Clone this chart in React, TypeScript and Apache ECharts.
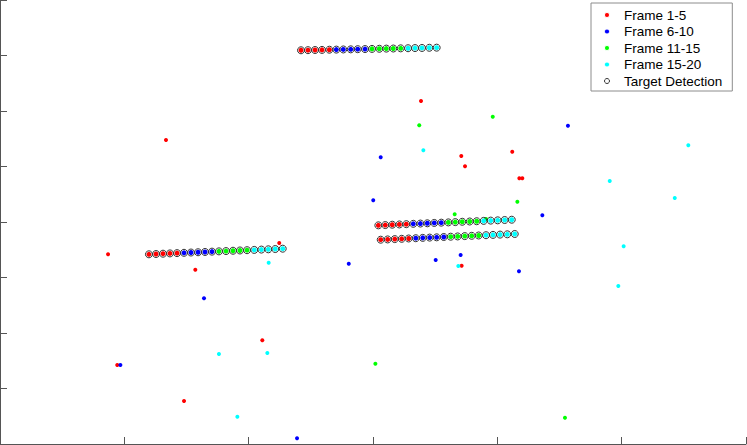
import React, { useEffect, useRef } from "react";
import * as echarts from "echarts";

// Axis setup (tick labels are cropped out in the reference)
const xTicks = [0, 100, 200, 300, 400, 500, 600];
const yTicks = [0, 100, 200, 300, 400, 500, 600, 700, 800];

const legendNames = ["Frame 1-5", "Frame 6-10", "Frame 11-15", "Frame 15-20", "Target Detection"];
const frameColors = ["#ff0000", "#0000ff", "#00ff00", "#00ffff"];

// Stand-alone detections (clutter) per frame group
const frame1_5: [number, number][] = [
  [133.5, 547.7], [86.9, 341.8], [157.1, 314.1], [224.6, 362.2], [94.3, 142.3],
  [148.0, 77.5], [211.0, 186.8], [338.6, 618.0], [371.0, 518.9], [374.0, 500.4],
  [412.0, 526.7], [417.7, 478.7], [420.1, 478.7], [371.3, 321.3],
];
const frame6_10: [number, number][] = [
  [96.8, 142.3], [164.1, 262.5], [238.9, 10.3], [280.5, 324.9], [300.2, 439.1],
  [306.2, 516.6], [350.4, 331.5], [370.5, 340.5], [417.4, 311.2], [436.2, 412.1],
  [456.8, 573.5],
];
const frame11_15: [number, number][] = [
  [337.2, 574.2], [396.3, 589.7], [416.1, 436.6], [365.7, 413.9], [390.9, 405.4],
  [301.9, 144.7], [454.4, 47.4],
];
const frame16_20: [number, number][] = [
  [340.5, 529.2], [553.6, 538.2], [490.4, 473.9], [542.7, 443.2], [501.6, 356.2],
  [497.3, 284.7], [368.6, 320.7], [216.1, 326.7], [176.1, 162.2], [215.0, 164.0],
  [190.9, 49.2],
];

// Target tracks: 20 frames each (x and y per frame)
const trackA_x = [242.1, 247.7, 253.4, 259.0, 264.9, 270.5, 276.1, 282.1, 287.7, 293.6, 299.2, 305.1, 310.7, 316.3, 322.3, 328.2, 333.8, 339.4, 345.3, 351.2];
const trackA_y = [709.4, 709.6, 709.9, 710.1, 710.4, 710.6, 710.9, 711.1, 711.4, 711.6, 711.9, 712.1, 712.4, 712.6, 712.9, 713.1, 713.4, 713.6, 713.9, 714.1];
const trackB_x = [119.8, 125.5, 131.1, 136.7, 142.4, 148.0, 153.6, 159.3, 164.9, 170.5, 176.1, 181.8, 187.4, 193.0, 198.7, 204.5, 210.2, 215.8, 221.4, 227.4];
const trackB_y = [341.8, 342.3, 342.9, 343.4, 343.9, 344.5, 345.0, 345.5, 346.0, 346.6, 347.1, 347.6, 348.2, 348.7, 349.2, 349.7, 350.3, 350.8, 351.3, 351.9];
const trackC_x = [304.3, 309.9, 315.5, 321.2, 326.8, 332.4, 338.1, 343.7, 349.3, 354.9, 360.6, 366.2, 371.8, 377.8, 383.4, 389.0, 394.7, 400.3, 405.9, 411.6];
const trackC_y = [394.0, 394.5, 395.1, 395.6, 396.1, 396.7, 397.2, 397.7, 398.3, 398.8, 399.3, 399.8, 400.4, 400.9, 401.4, 402.0, 402.5, 403.0, 403.6, 404.1];
const trackD_x = [306.2, 311.8, 317.5, 323.1, 328.7, 334.4, 340.0, 345.6, 351.2, 356.9, 362.5, 368.1, 373.8, 379.4, 385.0, 390.9, 396.5, 402.2, 408.0, 414.0];
const trackD_y = [368.1, 368.6, 369.2, 369.7, 370.3, 370.8, 371.4, 371.9, 372.4, 373.0, 373.5, 374.0, 374.6, 375.1, 375.7, 376.2, 376.8, 377.3, 377.8, 378.4];

const tracks = [
  [trackA_x, trackA_y],
  [trackB_x, trackB_y],
  [trackC_x, trackC_y],
  [trackD_x, trackD_y],
];

export default function App() {
  const ref = useRef<HTMLDivElement>(null);

  useEffect(() => {
    if (!ref.current) return;
    const chart = echarts.init(ref.current, undefined, { renderer: "svg" });

    const standalone = [frame1_5, frame6_10, frame11_15, frame16_20];
    const trackPointsFor = (g: number) => {
      const pts: [number, number][] = [];
      tracks.forEach(([xs, ys]) => {
        for (let i = g * 5; i < g * 5 + 5; i++) pts.push([xs[i], ys[i]]);
      });
      return pts;
    };
    const allTrack: [number, number][] = [];
    tracks.forEach(([xs, ys]) => xs.forEach((x, i) => allTrack.push([x, ys[i]])));

    const series: any[] = [];
    for (let g = 0; g < 4; g++) {
      series.push({
        type: "scatter",
        name: legendNames[g],
        data: standalone[g],
        symbol: "circle",
        symbolSize: 4,
        itemStyle: { color: frameColors[g], opacity: 1 },
        emphasis: { disabled: true },
        z: 2,
      });
    }
    for (let g = 0; g < 4; g++) {
      series.push({
        type: "scatter",
        name: legendNames[g],
        data: trackPointsFor(g),
        symbol: "circle",
        symbolSize: 5,
        itemStyle: { color: frameColors[g], opacity: 1 },
        emphasis: { disabled: true },
        z: 3,
      });
    }
    series.push({
      type: "scatter",
      name: legendNames[4],
      data: allTrack,
      symbol: "circle",
      symbolSize: 7,
      itemStyle: { color: "rgba(0,0,0,0)", borderColor: "#333333", borderWidth: 1, opacity: 1 },
      emphasis: { disabled: true },
      z: 4,
    });

    const axisCommon = {
      type: "value" as const,
      axisLine: { show: true, onZero: false, lineStyle: { color: "#555555", width: 1 } },
      axisTick: { show: true, inside: true, length: 7, lineStyle: { color: "#555555", width: 1 } },
      axisLabel: { show: false },
      splitLine: { show: false },
    };

    chart.setOption({
      animation: false,
      backgroundColor: "#ffffff",
      grid: { left: 0, right: 1, top: 0, bottom: 1, containLabel: false },
      xAxis: {
        ...axisCommon,
        min: xTicks[0],
        max: xTicks[xTicks.length - 1],
        interval: xTicks[1] - xTicks[0],
      },
      yAxis: {
        ...axisCommon,
        min: yTicks[0],
        max: yTicks[yTicks.length - 1],
        interval: yTicks[1] - yTicks[0],
      },
      legend: {
        orient: "vertical",
        left: 591,
        top: 3,
        padding: [4, 10, 2, 13],
        itemWidth: 24,
        itemHeight: 5,
        itemGap: 0.5,
        backgroundColor: "#ffffff",
        borderColor: "#8c8c8c",
        borderWidth: 1,
        selectedMode: false,
        textStyle: {
          fontFamily: "'Liberation Sans', Arial, sans-serif",
          fontSize: 13.5,
          lineHeight: 16,
          color: "#000000",
        },
        data: legendNames.map((n, i) =>
          i < 4
            ? { name: n, icon: "circle", itemStyle: { color: frameColors[i], borderColor: "#ffffff", borderWidth: 1 } }
            : { name: n, icon: "circle", itemStyle: { color: "rgba(0,0,0,0)", borderColor: "#333333", borderWidth: 1 } }
        ),
      },
      series,
    });

    return () => chart.dispose();
  }, []);

  return (
    <div
      ref={ref}
      style={{ position: "absolute", left: 0, top: 0, width: 747, height: 445 }}
    />
  );
}
